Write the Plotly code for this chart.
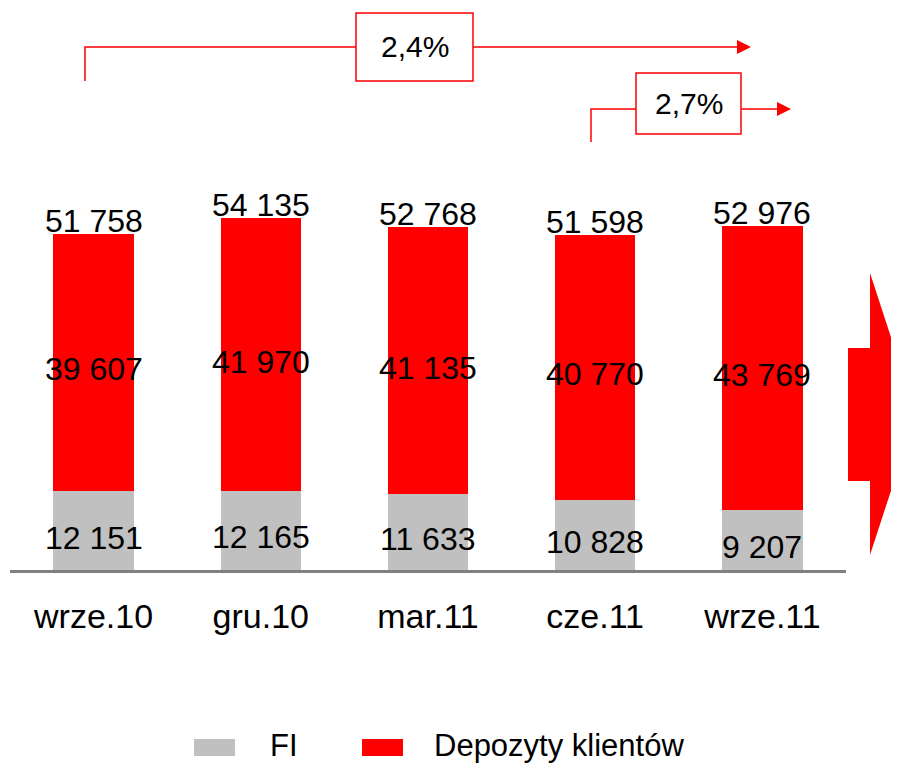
import plotly.graph_objects as go

categories = ["wrze.10", "gru.10", "mar.11", "cze.11", "wrze.11"]
fi = [12151, 12165, 11633, 10828, 9207]
depozyty = [39607, 41970, 41135, 40770, 43769]
totals = [51758, 54135, 52768, 51598, 52976]
series_names = ["FI", "Depozyty klientów"]
growth_labels = ["2,4%", "2,7%"]

GRAY = "#C0C0C0"
RED = "#FF0000"
FONT = "Liberation Sans, Arial, sans-serif"

# the page puts the figure at (8, 8), so the figure is a bit smaller than the window
OFF = 8
W, H = 899 - OFF, 765 - OFF
# plot area (window pixels): x 10..846, y 10..570
PX0, PX1, PY0, PY1 = 10, 846, 10, 570
L, T = PX0 - OFF, PY0 - OFF
R, B = W - (PX1 - OFF), H - (PY1 - OFF)
PW, PH = PX1 - PX0, PY1 - PY0


def px(x):
    return (x - PX0) / PW


def py(y):
    return (PY1 - y) / PH


def fmt(v):
    return f"{v:,}".replace(",", " ")


fig = go.Figure()

fig.add_trace(go.Bar(x=categories, y=fi, name=series_names[0],
                     marker=dict(color=GRAY, line=dict(width=0))))
fig.add_trace(go.Bar(x=categories, y=depozyty, name=series_names[1],
                     marker=dict(color=RED, line=dict(width=0))))

shapes = []
annotations = []

# value labels
lab_font = dict(size=32, color="black", family=FONT)
for c, f, d, t in zip(categories, fi, depozyty, totals):
    annotations.append(dict(x=c, y=f / 2, text=fmt(f), showarrow=False,
                            yanchor="middle", yshift=-7, font=lab_font))
    annotations.append(dict(x=c, y=f + d / 2, text=fmt(d), showarrow=False,
                            yanchor="middle", yshift=-7, font=lab_font))
    annotations.append(dict(x=c, y=t, text=fmt(t), showarrow=False,
                            yanchor="bottom", yshift=-7, font=lab_font))

# growth arrows at the top
arrows = [
    # x_start, y_start, y_line, x_head, x_tip, box x0, box x1, box y0, box y1
    (85, 81, 47, 737, 751, 356, 473, 13, 81),
    (591, 142, 109, 777, 791, 636, 741, 73, 134),
]
for (xs, ys, yl, xh, xt, bx0, bx1, by0, by1), lab in zip(arrows, growth_labels):
    shapes.append(dict(type="path", xref="paper", yref="paper",
                       path=f"M{px(xs)},{py(ys)} L{px(xs)},{py(yl)} L{px(xh)},{py(yl)}",
                       line=dict(color=RED, width=1.5)))
    shapes.append(dict(type="path", xref="paper", yref="paper",
                       path=f"M{px(xh)},{py(yl - 7)} L{px(xt)},{py(yl)} L{px(xh)},{py(yl + 7)} Z",
                       fillcolor=RED, line=dict(width=0)))
    shapes.append(dict(type="rect", xref="paper", yref="paper",
                       x0=px(bx0), x1=px(bx1), y0=py(by1), y1=py(by0),
                       fillcolor="white", line=dict(color=RED, width=1.5)))
    annotations.append(dict(text=lab, xref="paper", yref="paper",
                            x=px((bx0 + bx1) / 2), y=py((by0 + by1) / 2),
                            showarrow=False, xanchor="center", yanchor="middle",
                            font=dict(size=30, color="black", family=FONT)))

# big red arrow on the right
shapes.append(dict(type="path", xref="paper", yref="paper",
                   path=(f"M{px(848)},{py(348)} L{px(870)},{py(348)} L{px(870)},{py(273)} "
                         f"L{px(916)},{py(414)} L{px(870)},{py(555)} L{px(870)},{py(481)} "
                         f"L{px(848)},{py(481)} Z"),
                   fillcolor=RED, line=dict(width=0)))

# legend drawn by hand (wide swatches)
legend_items = [(194, 268, GRAY), (362, 432, RED)]
for (sx, tx, col), name in zip(legend_items, series_names):
    shapes.append(dict(type="rect", xref="paper", yref="paper",
                       x0=px(sx), x1=px(sx + 41), y0=py(756), y1=py(739),
                       fillcolor=col, line=dict(width=0)))
    annotations.append(dict(text=name, xref="paper", yref="paper",
                            x=px(tx), y=py(745), showarrow=False,
                            xanchor="left", yanchor="middle",
                            font=dict(size=31, color="black", family=FONT)))

fig.update_layout(
    width=W, height=H,
    margin=dict(l=L, r=R, t=T, b=B),
    barmode="stack",
    bargap=0.52,
    showlegend=False,
    paper_bgcolor="white",
    plot_bgcolor="white",
    font=dict(family=FONT, color="black"),
    xaxis=dict(range=[-0.5, 4.5], showline=True, linecolor="#808080", linewidth=3,
               showgrid=False, zeroline=False, ticks="",
               tickfont=dict(size=34, color="black", family=FONT),
               ticklabelstandoff=14),
    yaxis=dict(range=[0, 86150], visible=False, showgrid=False, zeroline=False),
    shapes=shapes,
    annotations=annotations,
)

fig.write_html("out.html")
